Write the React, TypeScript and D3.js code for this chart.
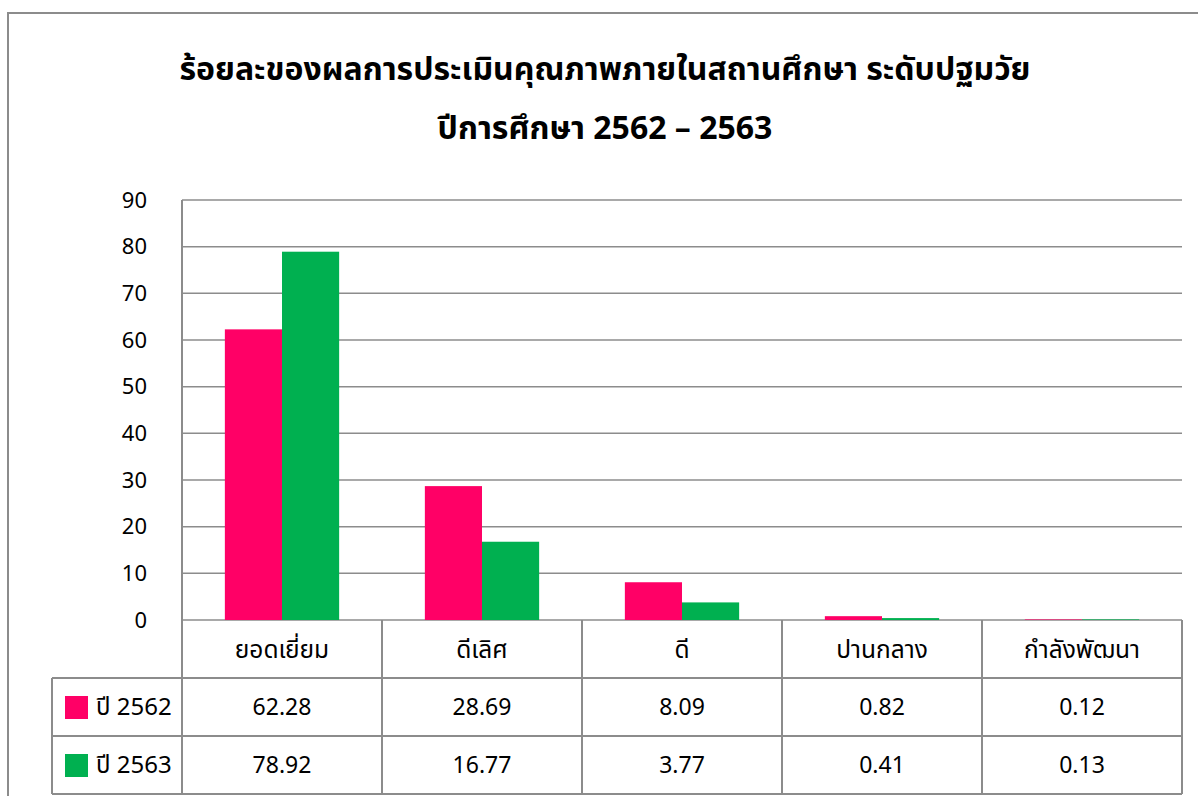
import React, { useEffect, useRef } from 'react';
import * as d3 from 'd3';

const categories = ['ยอดเยี่ยม', 'ดีเลิศ', 'ดี', 'ปานกลาง', 'กำลังพัฒนา'];
const seriesNames = ['ปี 2562', 'ปี 2563'];
const values2562 = [62.28, 28.69, 8.09, 0.82, 0.12];
const values2563 = [78.92, 16.77, 3.77, 0.41, 0.13];
const seriesColors = ['#FF0066', '#00B050'];
const yTicks = [0, 10, 20, 30, 40, 50, 60, 70, 80, 90];
const titleLines = ['ร้อยละของผลการประเมินคุณภาพภายในสถานศึกษา ระดับปฐมวัย', 'ปีการศึกษา 2562 – 2563'];

const FONT = "Tahoma, 'Noto Sans Thai', 'Leelawadee UI', sans-serif";

export default function App() {
  const ref = useRef<SVGSVGElement>(null);

  useEffect(() => {
    const width = 1198;
    const height = 796;
    const svg = d3.select(ref.current).attr('width', width).attr('height', height);
    svg.selectAll('*').remove();

    const plot = { left: 182, right: 1182, top: 200, bottom: 620 };
    const rowH = 58;
    const tableLeft = 52;
    const series = [values2562, values2563];
    const grid = '#8c8c8c';

    svg.append('rect').attr('width', width).attr('height', height).attr('fill', '#fff');

    // outer frame
    svg.append('path')
      .attr('d', `M8,${height + 5} V13 H${width + 5}`)
      .attr('fill', 'none').attr('stroke', grid).attr('stroke-width', 2);

    // title
    titleLines.forEach((t, i) => {
      svg.append('text')
        .attr('x', 605).attr('y', 80 + i * 59)
        .attr('text-anchor', 'middle')
        .style('font-family', FONT).style('font-weight', 'bold').style('font-size', '32px')
        .text(t);
    });

    const x0 = d3.scaleBand<string>().domain(categories).range([plot.left, plot.right]);
    const barW = x0.bandwidth() / 3.5;
    const x1 = d3.scaleBand<number>().domain([0, 1])
      .range([(x0.bandwidth() - 2 * barW) / 2, (x0.bandwidth() + 2 * barW) / 2]);
    const y = d3.scaleLinear().domain([0, 90]).range([plot.bottom, plot.top]);

    // gridlines
    svg.append('g').selectAll('line').data(yTicks).enter().append('line')
      .attr('x1', plot.left).attr('x2', plot.right)
      .attr('y1', d => y(d)).attr('y2', d => y(d))
      .attr('stroke', grid).attr('stroke-width', 1.5);

    // y labels
    svg.append('g').selectAll('text').data(yTicks).enter().append('text')
      .attr('x', 147).attr('y', d => y(d))
      .attr('dy', '0.35em').attr('text-anchor', 'end')
      .style('font-family', FONT).style('font-size', '22px')
      .text(d => d);

    // bars
    series.forEach((vals, si) => {
      svg.append('g').selectAll('rect').data(vals).enter().append('rect')
        .attr('x', (d, i) => (x0(categories[i]) as number) + (x1(si) as number))
        .attr('y', d => y(d))
        .attr('width', barW)
        .attr('height', d => y(0) - y(d))
        .attr('fill', seriesColors[si]);
    });

    // data table
    const tbl = svg.append('g');
    const tBottom = plot.bottom + rowH * 3;
    tbl.append('line').attr('x1', plot.left).attr('x2', plot.left)
      .attr('y1', plot.top).attr('y2', tBottom);
    x0.domain().forEach(c => {
      tbl.append('line').attr('x1', (x0(c) as number) + x0.bandwidth()).attr('x2', (x0(c) as number) + x0.bandwidth())
        .attr('y1', plot.bottom).attr('y2', tBottom);
    });
    tbl.append('line').attr('x1', tableLeft).attr('x2', tableLeft)
      .attr('y1', plot.bottom + rowH).attr('y2', tBottom);
    [1, 2, 3].forEach(r => {
      tbl.append('line').attr('x1', tableLeft).attr('x2', plot.right)
        .attr('y1', plot.bottom + r * rowH).attr('y2', plot.bottom + r * rowH);
    });
    tbl.selectAll('line').attr('stroke', grid).attr('stroke-width', 2);

    // category header
    tbl.selectAll('text.cat').data(categories).enter().append('text')
      .attr('class', 'cat')
      .attr('x', d => (x0(d) as number) + x0.bandwidth() / 2)
      .attr('y', plot.bottom + rowH / 2)
      .attr('dy', '0.35em').attr('text-anchor', 'middle')
      .style('font-family', FONT).style('font-size', '24.5px')
      .text(d => d);

    series.forEach((vals, si) => {
      const cy = plot.bottom + rowH * (si + 1) + rowH / 2;
      tbl.append('rect').attr('x', 65).attr('y', cy - 11).attr('width', 23).attr('height', 23)
        .attr('fill', seriesColors[si]);
      tbl.append('text').attr('x', 96).attr('y', cy).attr('dy', '0.35em')
        .style('font-family', FONT).style('font-size', '24px')
        .text(seriesNames[si]);
      tbl.selectAll(`text.v${si}`).data(vals).enter().append('text')
        .attr('class', `v${si}`)
        .attr('x', (d, i) => (x0(categories[i]) as number) + x0.bandwidth() / 2)
        .attr('y', cy).attr('dy', '0.35em').attr('text-anchor', 'middle')
        .style('font-family', FONT).style('font-size', '23px')
        .text(d => d.toFixed(2));
    });
  }, []);

  return <svg ref={ref} style={{ position: 'absolute', left: 0, top: 0, display: 'block' }} />;
}
